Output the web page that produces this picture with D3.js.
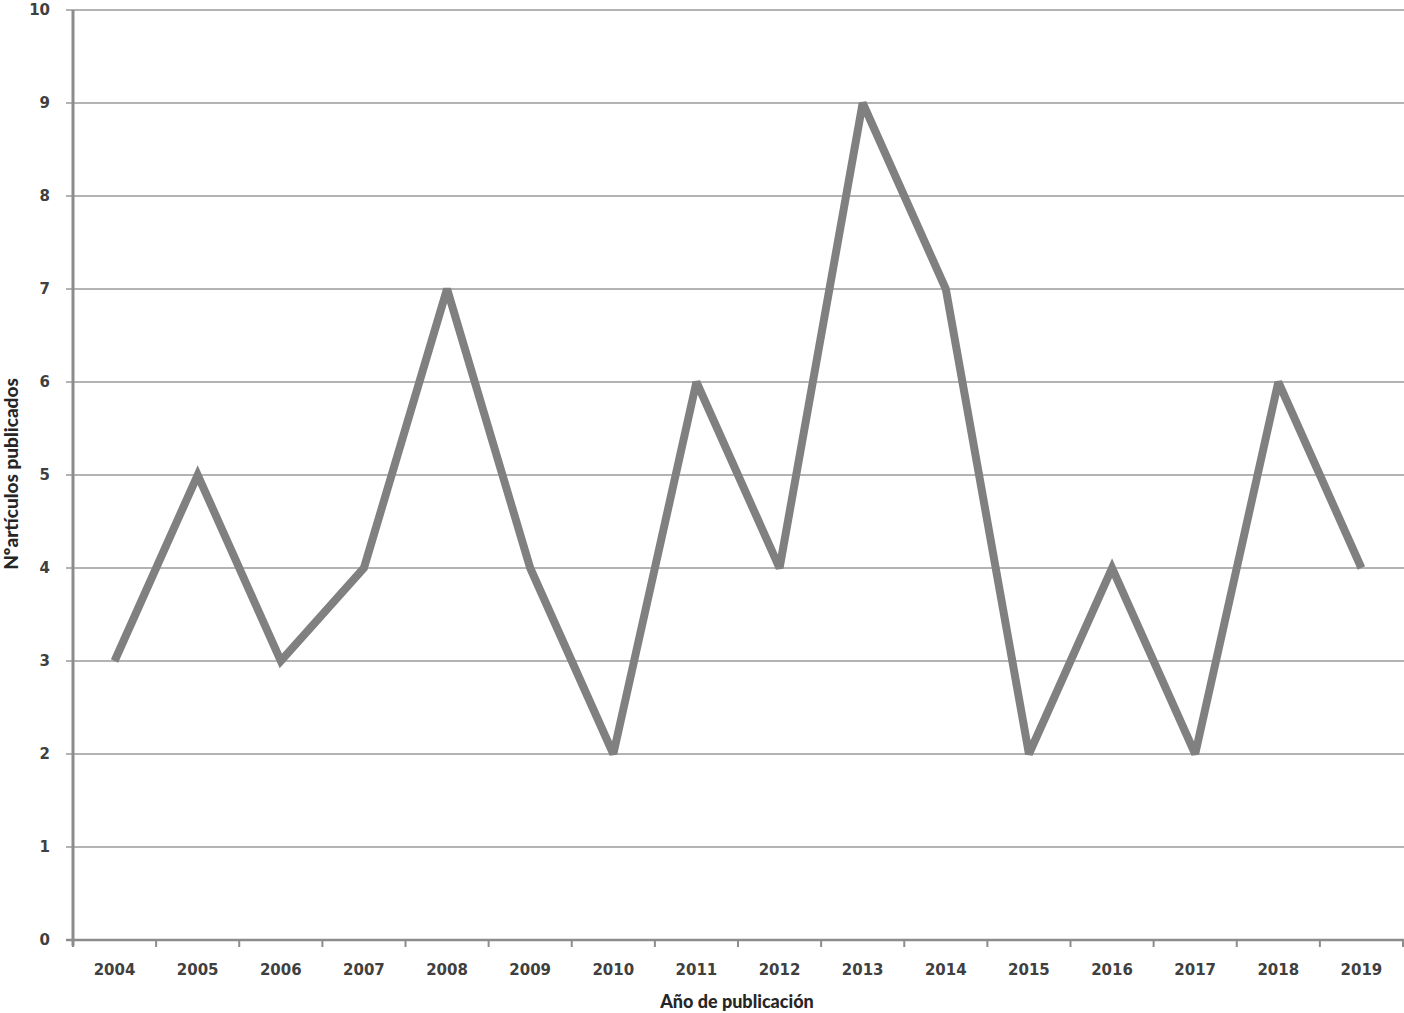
<!DOCTYPE html>
<html><head><meta charset="utf-8">
<script src="https://cdn.jsdelivr.net/npm/d3@7"></script>
<style>body{margin:0;background:#fff}</style>
</head><body>
<svg id="c" width="1404" height="1013"></svg>
<script>
const years = ["2004","2005","2006","2007","2008","2009","2010","2011","2012","2013","2014","2015","2016","2017","2018","2019"];
const articles = [3,5,3,4,7,4,2,6,4,9,7,2,4,2,6,4];
const yTicks = [0,1,2,3,4,5,6,7,8,9,10];

(function(){
const svg = d3.select("#c");
const pl = 73, pr = 1403, pt = 10, pb = 940;
const x = d3.scaleBand().domain(years).range([pl, pr]);
const y = d3.scaleLinear().domain([0,10]).range([pb, pt]);

svg.append("g").selectAll("line").data(yTicks).join("line")
  .attr("x1", pl - 7).attr("x2", pr + 2)
  .attr("y1", d => y(d)).attr("y2", d => y(d))
  .attr("stroke", "#9a9a9a").attr("stroke-width", 1.5);

svg.append("line").attr("x1", pl).attr("x2", pl).attr("y1", pt).attr("y2", pb + 6)
  .attr("stroke", "#8c8c8c").attr("stroke-width", 3);
svg.append("line").attr("x1", pl - 7).attr("x2", pr + 2).attr("y1", pb).attr("y2", pb)
  .attr("stroke", "#8c8c8c").attr("stroke-width", 2.5);

const bounds = years.map(d => x(d)).concat([x(years[years.length-1]) + x.bandwidth()]);
svg.append("g").selectAll("line").data(bounds).join("line")
  .attr("x1", d => d).attr("x2", d => d).attr("y1", pb).attr("y2", pb + 7)
  .attr("stroke", "#8c8c8c").attr("stroke-width", 2);

svg.append("g").selectAll("text").data(yTicks).join("text")
  .attr("x", 50).attr("y", d => y(d) + 5).attr("text-anchor", "end")
  .attr("font-family", "DejaVu Sans").attr("font-weight", "bold").attr("font-size", 15)
  .attr("fill", "#404040").text(d => d);

svg.append("g").selectAll("text").data(years).join("text")
  .attr("x", d => x(d) + x.bandwidth()/2).attr("y", 975).attr("text-anchor", "middle")
  .attr("font-family", "DejaVu Sans").attr("font-weight", "bold").attr("font-size", 15)
  .attr("fill", "#404040").text(d => d);

const line = d3.line().x((d,i) => x(years[i]) + x.bandwidth()/2).y(d => y(d));
svg.append("path").datum(articles).attr("d", line)
  .attr("fill", "none").attr("stroke", "#808080").attr("stroke-width", 8)
  .attr("stroke-linejoin", "miter").attr("stroke-miterlimit", 3);

svg.append("text").attr("x", 737).attr("y", 1008).attr("text-anchor", "middle")
  .attr("font-family", "Lato").attr("font-weight", 900).attr("font-size", 18)
  .attr("fill", "#262626").text("Año de publicación");
svg.append("text").attr("transform", "translate(18,474) rotate(-90)").attr("text-anchor", "middle")
  .attr("font-family", "Lato").attr("font-weight", 900).attr("font-size", 19)
  .attr("fill", "#262626").text("Nºartículos publicados");
})();
</script>
</body></html>
